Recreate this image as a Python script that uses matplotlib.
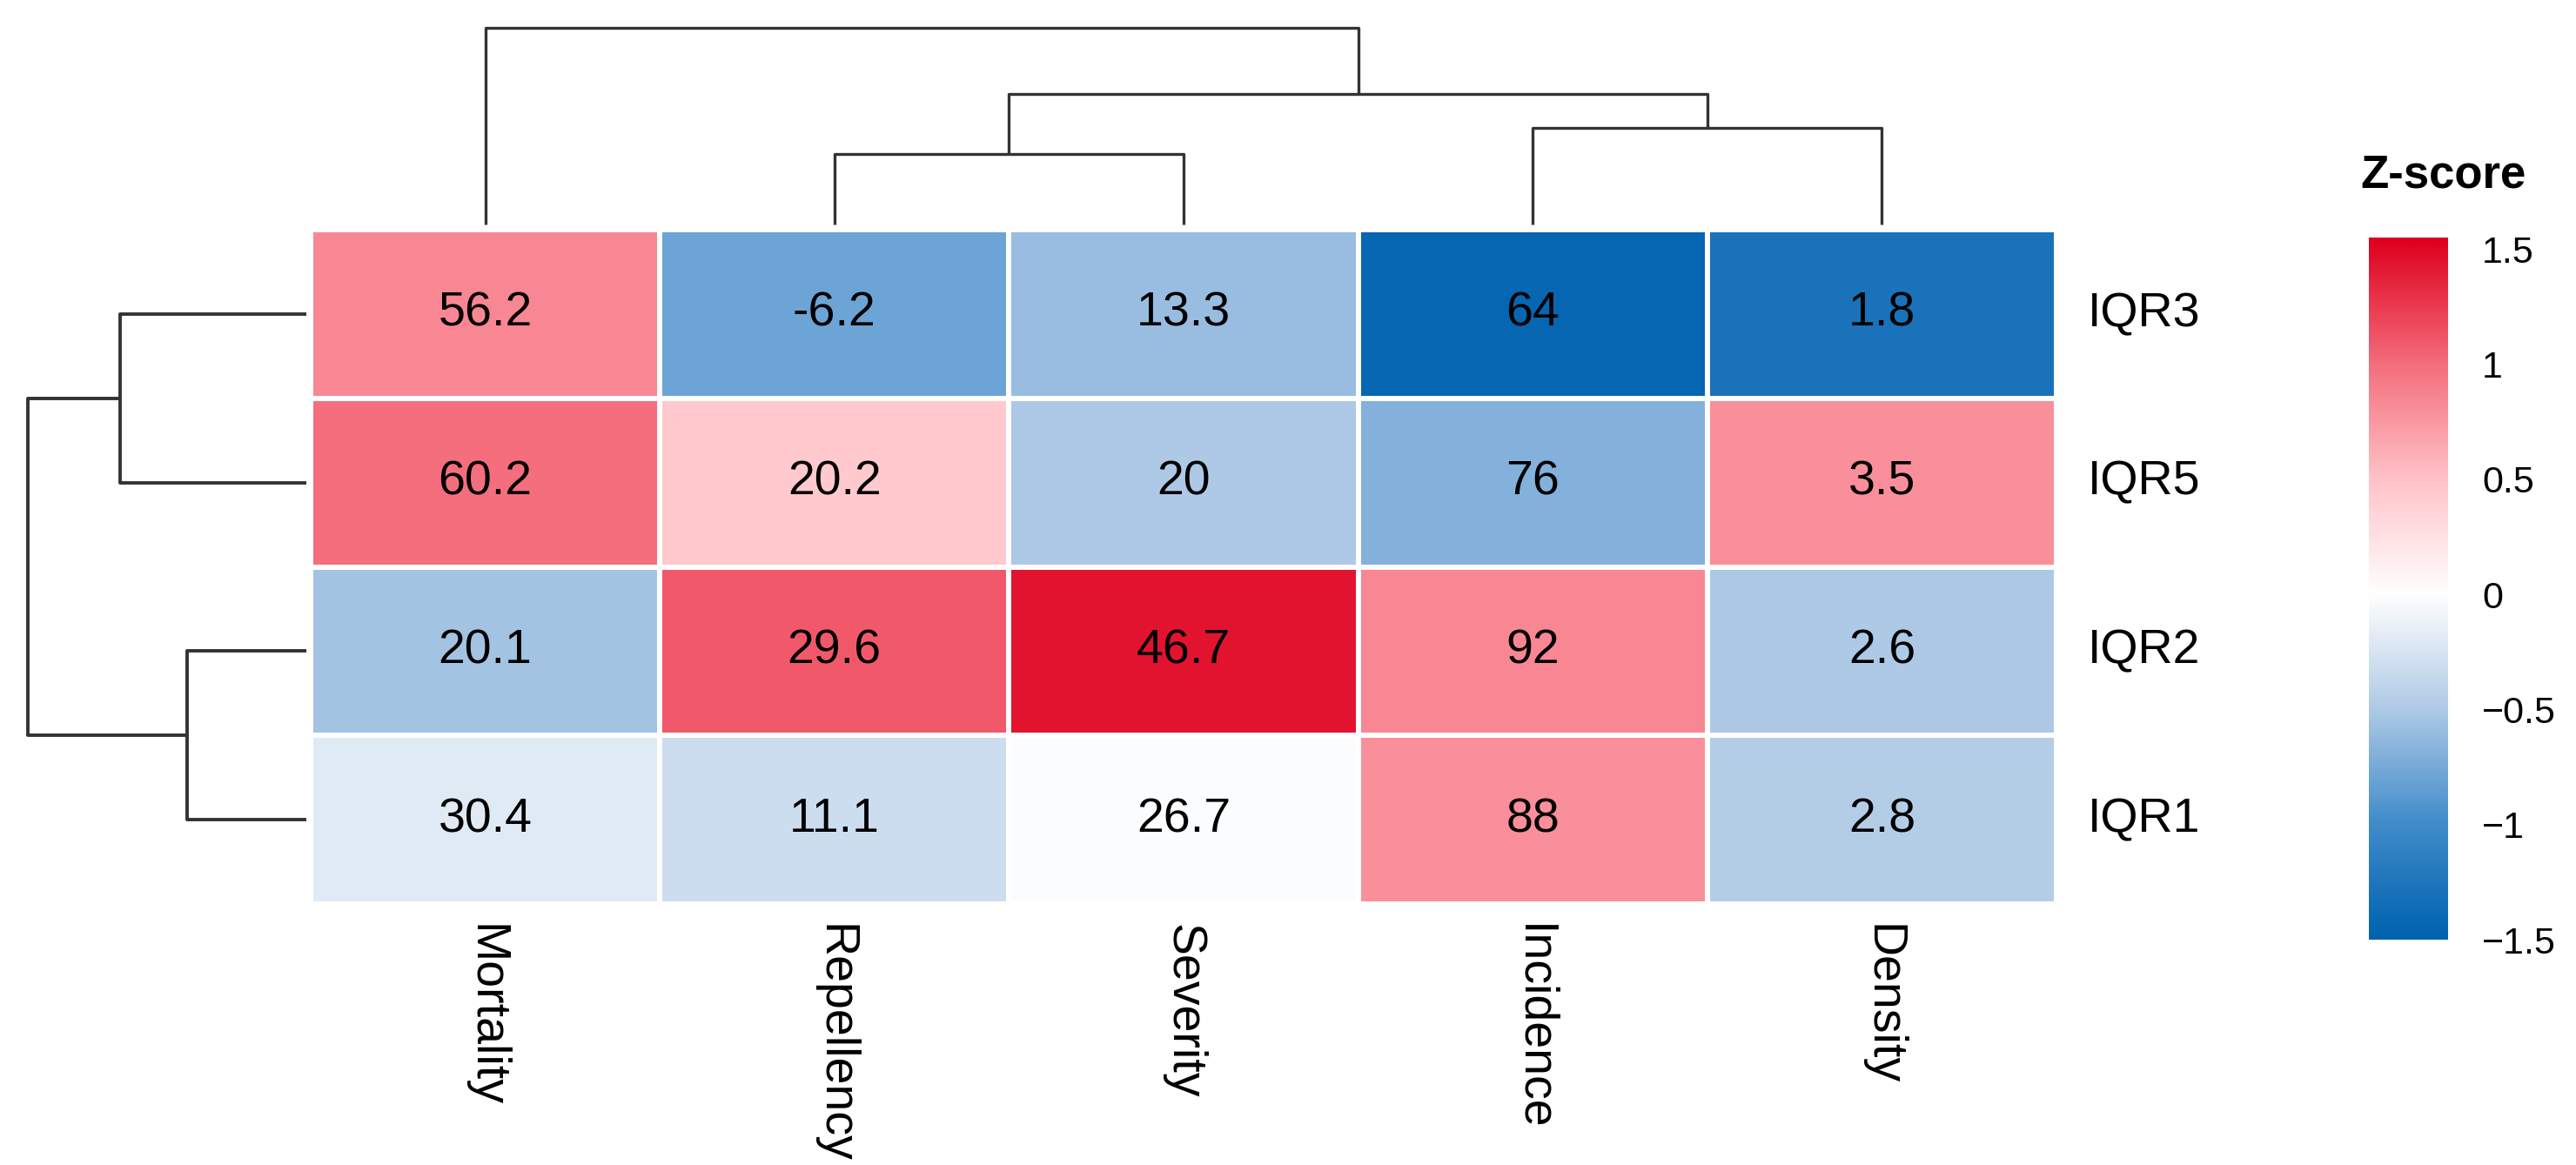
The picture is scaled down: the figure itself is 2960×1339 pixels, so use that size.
import numpy as np
import matplotlib
matplotlib.use("Agg")
import matplotlib.pyplot as plt
from matplotlib.colors import LinearSegmentedColormap

plt.rcParams['font.family'] = ['Liberation Sans', 'DejaVu Sans']

# data
cols = ["Mortality", "Repellency", "Severity", "Incidence", "Density"]
rows = ["IQR3", "IQR5", "IQR2", "IQR1"]

# raw values shown in the cells
labels = [
    ["56.2", "-6.2", "13.3", "64", "1.8"],
    ["60.2", "20.2", "20", "76", "3.5"],
    ["20.1", "29.6", "46.7", "92", "2.6"],
    ["30.4", "11.1", "26.7", "88", "2.8"],
]

# z-scores (cell colours)
zscore = np.array([
    [0.85, -0.80, -0.60, -1.45, -1.30],
    [1.00, 0.45, -0.50, -0.70, 0.80],
    [-0.55, 1.10, 1.45, 0.85, -0.50],
    [-0.20, -0.32, -0.03, 0.80, -0.47],
])

# dendrogram linkage: (child a, child b, height); leaves are 0..n-1
col_links = [(1, 2, 0.358), (3, 4, 0.491), (5, 6, 0.664), (0, 7, 1.0)]
row_links = [(2, 3, 0.428), (0, 1, 0.669), (5, 4, 1.0)]

cbar_ticks = [-1.5, -1, -0.5, 0, 0.5, 1, 1.5]

# colour scale
cmap = LinearSegmentedColormap.from_list("zs", [
    (0.000, (0/255, 98/255, 176/255)),
    (0.164, (65/255, 140/255, 202/255)),
    (0.328, (175/255, 202/255, 230/255)),
    (0.492, (1, 1, 1)),
    (0.656, (255/255, 195/255, 200/255)),
    (0.820, (245/255, 110/255, 125/255)),
    (1.000, (222/255, 0/255, 30/255)),
])
vmin, vmax = -1.5, 1.55

W, H = 2960, 1339
fig = plt.figure(figsize=(W / 100, H / 100), dpi=100)


def px_axes(x0, y0, x1, y1):
    # axes from pixel box (top-left origin)
    return fig.add_axes([x0 / W, 1 - y1 / H, (x1 - x0) / W, (y1 - y0) / H])


# heatmap
ax = px_axes(357, 264, 2363, 1039)
ax.pcolormesh(np.arange(len(cols) + 1), np.arange(len(rows) + 1), zscore,
              cmap=cmap, vmin=vmin, vmax=vmax,
              edgecolors="white", linewidth=3)
ax.set_xlim(0, len(cols))
ax.set_ylim(len(rows), 0)
for i in range(len(rows)):
    for j in range(len(cols)):
        ax.text(j + 0.5, i + 0.5, labels[i][j], ha="center", va="center",
                fontsize=40, color="black")
ax.axis("off")

# row labels
for i, r in enumerate(rows):
    ax.text(len(cols) + 0.09, i + 0.5, r, ha="left", va="center",
            fontsize=40, clip_on=False)
# column labels
for j, c in enumerate(cols):
    ax.text(j + 0.5, len(rows) + 0.12, c, ha="center", va="top",
            rotation=270, fontsize=40, clip_on=False)


def draw_dendro(a, links, n, orient):
    pos = {k: k + 0.5 for k in range(n)}
    hgt = {k: 0.0 for k in range(n)}
    nid = n
    for ca, cb, h in links:
        xa, xb = pos[ca], pos[cb]
        ha_, hb_ = hgt[ca], hgt[cb]
        p = [xa, xa, xb, xb]
        q = [ha_, h, h, hb_]
        if orient == "top":
            a.plot(p, q, color="#333333", lw=2.4, solid_capstyle="butt",
                   clip_on=False)
        else:
            a.plot(q, p, color="#333333", lw=2.8, solid_capstyle="butt",
                   clip_on=False)
        pos[nid] = (xa + xb) / 2
        hgt[nid] = h
        nid += 1


# column dendrogram
axc = px_axes(357, 32, 2363, 258)
draw_dendro(axc, col_links, len(cols), "top")
axc.set_xlim(0, len(cols))
axc.set_ylim(0, 1)
axc.axis("off")

# row dendrogram
axr = px_axes(32, 264, 352, 1039)
draw_dendro(axr, row_links, len(rows), "left")
axr.set_xlim(1, 0)
axr.set_ylim(len(rows), 0)
axr.axis("off")

# colour bar
axb = px_axes(2722, 273, 2813, 1080)
grad = np.linspace(vmin, vmax, 300).reshape(-1, 1)
axb.imshow(grad, aspect="auto", cmap=cmap, vmin=vmin, vmax=vmax,
           origin="lower", extent=[0, 1, vmin, vmax])
axb.set_xticks([])
axb.yaxis.tick_right()
axb.set_yticks(cbar_ticks)
axb.set_yticklabels([f"{t:g}".replace("-", "\u2212") for t in cbar_ticks],
                    fontsize=31)
axb.tick_params(axis="y", length=0, pad=28)
for s in axb.spines.values():
    s.set_visible(False)

fig.text(2712 / W, 1 - 202 / H, "Z-score", ha="left", va="center",
         fontsize=38, fontweight="bold")

fig.savefig("out.png", dpi=100)
